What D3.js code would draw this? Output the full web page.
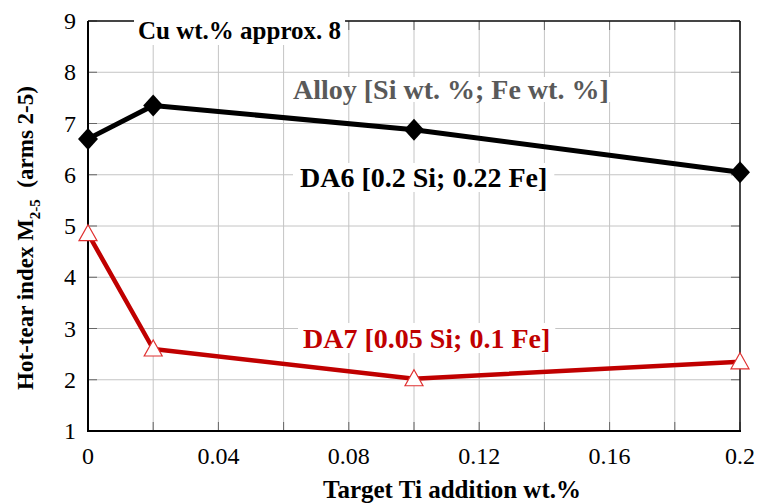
<!DOCTYPE html>
<html><head><meta charset="utf-8">
<script src="https://cdn.jsdelivr.net/npm/d3@7"></script>
<style>body{margin:0;background:#fff}svg{display:block}</style>
</head><body>
<svg id="c" width="760" height="503"></svg>
<script>
const tiAddition = [0, 0.02, 0.1, 0.2];
const da6Values = [6.7, 7.35, 6.88, 6.05];
const da7Values = [4.85, 2.6, 2.02, 2.35];
const xTickValues = [0, 0.04, 0.08, 0.12, 0.16, 0.2];
const xTickLabels = ["0", "0.04", "0.08", "0.12", "0.16", "0.2"];
const xGridValues = [0, 0.02, 0.04, 0.06, 0.08, 0.1, 0.12, 0.14, 0.16, 0.18, 0.2];
const yTickValues = [1, 2, 3, 4, 5, 6, 7, 8, 9];

const svg = d3.select("#c");
const F = "Liberation Serif, Times New Roman, serif";
const L = 88, R = 740, T = 21, B = 431;
const x = d3.scaleLinear().domain([0, 0.2]).range([L, R]);
const y = d3.scaleLinear().domain([1, 9]).range([B, T]);
const red = "#c00000";

// grid
const g = svg.append("g");
g.selectAll(".vg").data(xGridValues).join("line")
  .attr("x1", d => x(d)).attr("x2", d => x(d)).attr("y1", T).attr("y2", B)
  .attr("stroke", "#c4c4c4").attr("stroke-width", 1);
g.selectAll(".hg").data(yTickValues).join("line")
  .attr("x1", L).attr("x2", R).attr("y1", d => y(d)).attr("y2", d => y(d))
  .attr("stroke", "#c4c4c4").attr("stroke-width", 1);

// inner ticks on all sides
const tk = 9;
g.selectAll(".tb").data(xGridValues).join("line")
  .attr("x1", d => x(d)).attr("x2", d => x(d)).attr("y1", B).attr("y2", B - tk)
  .attr("stroke", "#666").attr("stroke-width", 1);
g.selectAll(".tt").data(xGridValues).join("line")
  .attr("x1", d => x(d)).attr("x2", d => x(d)).attr("y1", T).attr("y2", T + tk)
  .attr("stroke", "#666").attr("stroke-width", 1);
g.selectAll(".tl").data(yTickValues).join("line")
  .attr("x1", L).attr("x2", L + tk).attr("y1", d => y(d)).attr("y2", d => y(d))
  .attr("stroke", "#666").attr("stroke-width", 1);
g.selectAll(".tr").data(yTickValues).join("line")
  .attr("x1", R).attr("x2", R - tk).attr("y1", d => y(d)).attr("y2", d => y(d))
  .attr("stroke", "#666").attr("stroke-width", 1);

// frame
svg.append("line").attr("x1", L).attr("x2", R).attr("y1", T).attr("y2", T).attr("stroke", "#111").attr("stroke-width", 1.5);
svg.append("line").attr("x1", R).attr("x2", R).attr("y1", T).attr("y2", B).attr("stroke", "#111").attr("stroke-width", 1.5);
svg.append("line").attr("x1", L).attr("x2", L).attr("y1", T).attr("y2", B + 1).attr("stroke", "#000").attr("stroke-width", 2);
svg.append("line").attr("x1", L - 1).attr("x2", R + 1).attr("y1", B).attr("y2", B).attr("stroke", "#000").attr("stroke-width", 2);

// tick labels
svg.selectAll(".xl").data(xTickValues).join("text")
  .attr("x", d => x(d)).attr("y", 464).attr("text-anchor", "middle")
  .attr("font-family", F).attr("font-size", 24).attr("fill", "#000")
  .text((d, i) => xTickLabels[i]);
svg.selectAll(".yl").data(yTickValues).join("text")
  .attr("x", 76).attr("y", d => y(d) + 8).attr("text-anchor", "end")
  .attr("font-family", F).attr("font-size", 24).attr("fill", "#000")
  .text(d => d);

// axis titles
svg.append("text").attr("x", 452).attr("y", 498).attr("text-anchor", "middle")
  .attr("font-family", F).attr("font-size", 25).attr("font-weight", "bold")
  .text("Target Ti addition wt.%");
const yt = svg.append("text").attr("transform", "rotate(-90)")
  .attr("x", -238).attr("y", 33).attr("text-anchor", "middle")
  .attr("font-family", F).attr("font-size", 23).attr("font-weight", "bold");
yt.append("tspan").text("Hot-tear index M");
yt.append("tspan").attr("dy", 7).attr("font-size", 15).text("2-5");
yt.append("tspan").attr("dy", -7).text("\u00a0\u00a0(arms 2-5)");

// annotations with white backgrounds
function note(txt, tx, ty, size, color, px, pt, pb) {
  const bg = svg.append("rect").attr("fill", "#fff");
  const t = svg.append("text").attr("x", tx).attr("y", ty).attr("font-family", F)
    .attr("font-size", size).attr("font-weight", "bold").attr("fill", color).text(txt);
  const bb = t.node().getBBox();
  bg.attr("x", bb.x - px).attr("y", bb.y - pt).attr("width", bb.width + 2 * px).attr("height", bb.height + pt + pb);
}
note("Cu wt.% approx. 8", 138, 39, 25, "#000", 4, 2, 1);
note("Alloy [Si wt. %; Fe wt. %]", 293, 99, 28, "#595959", 3, -3, -3);
note("DA6 [0.2 Si; 0.22 Fe]", 300, 187, 28, "#000", 7, -1, -1);
note("DA7 [0.05 Si; 0.1 Fe]", 303, 348, 28, red, 5, 0, -1);

// lines
const line = d3.line().x(d => x(d[0])).y(d => y(d[1]));
const da6 = tiAddition.map((t, i) => [t, da6Values[i]]);
const da7 = tiAddition.map((t, i) => [t, da7Values[i]]);
svg.append("path").attr("d", line(da7)).attr("fill", "none").attr("stroke", red).attr("stroke-width", 4.5).attr("stroke-linejoin", "round");
svg.append("path").attr("d", line(da6)).attr("fill", "none").attr("stroke", "#000").attr("stroke-width", 5).attr("stroke-linejoin", "round");

// markers
svg.selectAll(".dm").data(da6).join("path")
  .attr("transform", d => `translate(${x(d[0])},${y(d[1])})`)
  .attr("d", "M0,-11L10,0L0,11L-10,0Z").attr("fill", "#000");
svg.selectAll(".tri").data(da7).join("path")
  .attr("transform", d => `translate(${x(d[0])},${y(d[1])})`)
  .attr("d", "M0,-9L9,7L-9,7Z").attr("fill", "#fff").attr("stroke", "#e03030").attr("stroke-width", 1.2);
</script>
</body></html>
